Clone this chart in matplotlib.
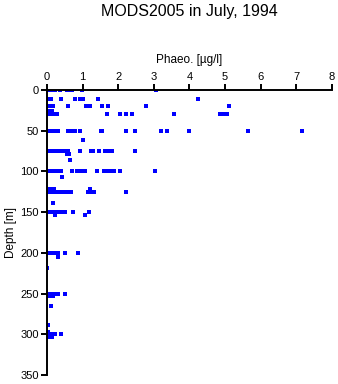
import numpy as np
import matplotlib
matplotlib.use('Agg')
import matplotlib.pyplot as plt

plt.rcParams['font.family'] = ['Liberation Sans', 'DejaVu Sans']

# phaeopigment samples [ug/l] grouped by sampling depth [m]
depth_000 = [0.0, 0.04, 0.08, 0.12, 0.17, 0.22, 0.37, 0.55, 0.62, 0.7, 0.97, 3.06]
depth_011 = [0.0, 0.03, 0.07, 0.1, 0.39, 0.79, 0.93, 1.0, 1.44, 4.25]
depth_020 = [0.0, 0.04, 0.08, 0.12, 0.16, 0.58, 1.1, 1.2, 1.54, 1.72, 2.78, 5.12]
depth_026 = [0.0, 0.04, 0.08, 0.13]
depth_030 = [0.0, 0.04, 0.08, 0.12, 0.16, 0.2, 0.27, 1.69, 2.05, 2.22, 2.38, 3.58,
             4.86, 4.95, 5.05]
depth_050 = [0.0, 0.04, 0.08, 0.12, 0.16, 0.2, 0.25, 0.3, 0.59, 0.65, 0.69, 0.8,
             0.93, 1.52, 1.55, 2.22, 2.46, 3.19, 3.38, 4.0, 5.64, 7.15]
depth_062 = [1.0]
depth_075 = [0.0, 0.04, 0.08, 0.12, 0.16, 0.2, 0.25, 0.3, 0.35, 0.4, 0.45, 0.5, 0.55,
             0.6, 0.92, 1.23, 1.3, 1.47, 1.63, 1.7, 1.76, 1.82, 2.48]
depth_079 = [0.55, 0.62]
depth_086 = [0.65]
depth_100 = [0.0, 0.04, 0.08, 0.12, 0.16, 0.2, 0.25, 0.3, 0.35, 0.4, 0.71, 0.83,
             0.96, 1.06, 1.41, 1.6, 1.68, 1.76, 1.89, 2.05, 3.02]
depth_107 = [0.41]
depth_122 = [0.08, 0.2, 1.22]
depth_125 = [0.0, 0.05, 0.1, 0.15, 0.2, 0.26, 0.32, 0.38, 0.45, 0.52, 0.6, 0.68,
             1.15, 1.2, 1.25, 1.32, 2.23]
depth_139 = [0.18]
depth_150 = [0.0, 0.04, 0.08, 0.12, 0.16, 0.2, 0.25, 0.3, 0.36, 0.42, 0.5, 0.74,
             1.19]
depth_153 = [0.22, 1.08]
depth_200 = [0.0, 0.04, 0.08, 0.12, 0.16, 0.2, 0.25, 0.3, 0.5, 0.88]
depth_205 = [0.3]
depth_218 = [0.0]
depth_250 = [0.0, 0.04, 0.08, 0.12, 0.17, 0.22, 0.27, 0.3, 0.5]
depth_253 = [0.06, 0.12, 0.16]
depth_265 = [0.1]
depth_289 = [0.03]
depth_297 = [0.0, 0.04]
depth_300 = [0.0, 0.04, 0.08, 0.12, 0.17, 0.22, 0.39]
depth_303 = [0.0, 0.05, 0.14]

rows = {0: depth_000, 11: depth_011, 20: depth_020, 26: depth_026, 30: depth_030,
        50: depth_050, 62: depth_062, 75: depth_075, 79: depth_079, 86: depth_086,
        100: depth_100, 107: depth_107, 122: depth_122, 125: depth_125,
        139: depth_139, 150: depth_150, 153: depth_153, 200: depth_200,
        205: depth_205, 218: depth_218, 250: depth_250, 253: depth_253,
        265: depth_265, 289: depth_289, 297: depth_297, 300: depth_300,
        303: depth_303}

phaeo = np.concatenate([np.array(v, float) for v in rows.values()])
depth = np.concatenate([np.full(len(v), d, float) for d, v in rows.items()])

fig = plt.figure(figsize=(3.38, 3.84), dpi=100)
ax = fig.add_axes([0.139, 0.0234, 0.843, 0.7422])

ax.plot(phaeo, depth, 's', color='#0000ff', markersize=2.4, markeredgewidth=0)

ax.set_xlim(0, 8)
ax.set_ylim(350, 0)
ax.set_xticks(range(0, 9))
ax.set_yticks(range(0, 351, 50))

ax.xaxis.set_label_position('top')
ax.xaxis.tick_top()
ax.spines['right'].set_visible(False)
ax.spines['bottom'].set_visible(False)
for s in ('top', 'left'):
    ax.spines[s].set_linewidth(1.4)
ax.tick_params(direction='out', length=4, width=1.4, labelsize=8, pad=2)
ax.set_xlabel('Phaeo. [µg/l]', fontsize=8.5, labelpad=6)
ax.set_ylabel('Depth [m]', fontsize=8.5, labelpad=2)
fig.suptitle('MODS2005 in July, 1994', x=0.56, y=0.99, fontsize=11.5)

plt.savefig('out.png', dpi=100)
